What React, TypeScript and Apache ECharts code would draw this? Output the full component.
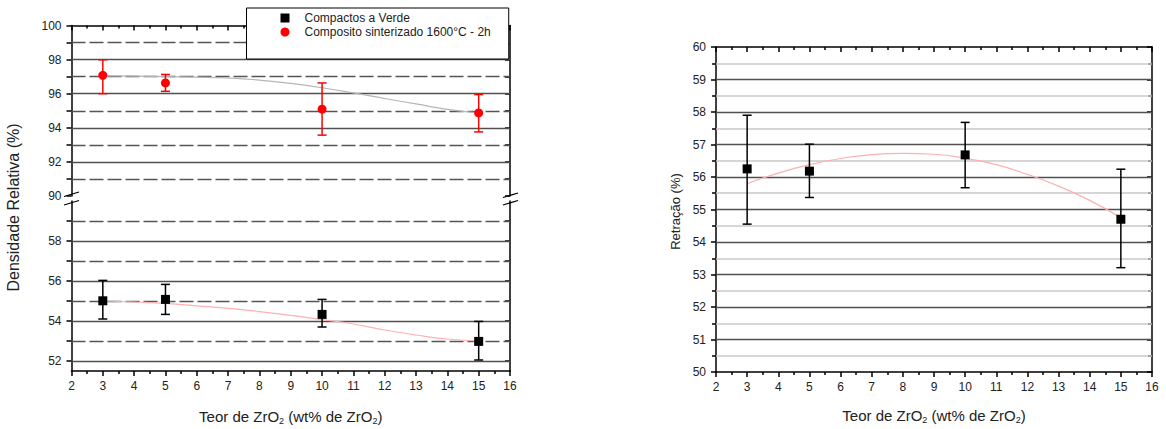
import React, { useEffect, useRef } from "react";
import * as echarts from "echarts";

// ---------- data ----------
const xPoints = [3, 5, 10, 15];

// Left panel, bottom section: green compacts (Compactos a Verde)
const greenDensity = [55.01, 55.08, 54.33, 52.98];
const greenLow = [54.1, 54.33, 53.7, 52.05];
const greenHigh = [56.03, 55.83, 55.08, 53.98];

// Left panel, top section: sintered composite
const sinterDensity = [97.08, 96.63, 95.09, 94.87];
const sinterLow = [96.0, 96.14, 93.57, 93.76];
const sinterHigh = [97.99, 97.13, 96.63, 95.95];

// Fit curves
const fitX = [3, 4, 5, 6, 7, 8, 9, 10, 11, 12, 13, 14, 15];
const greenFit = [55.0, 54.95, 54.88, 54.76, 54.63, 54.47, 54.28, 54.07, 53.85, 53.55, 53.3, 53.1, 53.0];
const sinterFit = [97.05, 97.03, 97.0, 96.97, 96.92, 96.8, 96.6, 96.35, 96.05, 95.72, 95.4, 95.08, 94.87];

// Right panel: shrinkage (Retração)
const retracao = [56.25, 56.18, 56.68, 54.7];
const retLow = [54.55, 55.37, 55.67, 53.21];
const retHigh = [57.9, 57.01, 57.68, 56.24];
const retFit = [55.8, 56.12, 56.38, 56.57, 56.69, 56.73, 56.7, 56.58, 56.38, 56.08, 55.72, 55.28, 54.75];

// Axis ticks / grid lines
const topMajor = [92, 94, 96, 98];
const topMinor = [91, 93, 95, 97, 99];
const bottomLabels = [52, 54, 56, 58];
const bottomTicks = [52, 53, 54, 55, 56, 57, 58, 59];
const bottomMajor = [52, 54, 56, 58];
const bottomMinor = [53, 55, 57, 59];
const rightMajor = [51, 52, 53, 54, 55, 56, 57, 58, 59];
const rightMinor = [50.5, 51.5, 52.5, 53.5, 54.5, 55.5, 56.5, 57.5, 58.5, 59.5];

const LEGEND_GREEN = "Compactos a Verde";
const LEGEND_SINTER = "Composito sinterizado 1600°C - 2h";

const FONT = "'Liberation Sans', Arial, sans-serif";
const TXT = "#222";

const axisLineStyle = { color: "#000", width: 1.5 };
const tickStyle = { color: "#000", width: 1.5 };

const xTitleRich = {
  a: { fontSize: 15, fontFamily: FONT, color: TXT, lineHeight: 18 },
  s: { fontSize: 9, fontFamily: FONT, color: TXT, lineHeight: 8, verticalAlign: "bottom" },
};
const xTitle = "{a|Teor de ZrO}{s|2}{a| (wt% de ZrO}{s|2}{a|)}";

function errorBar(color: string) {
  return (params: any, api: any) => {
    const x = api.value(0);
    const lo = api.coord([x, api.value(1)]);
    const hi = api.coord([x, api.value(2)]);
    const hw = 4.5;
    const style = { stroke: color, lineWidth: 1.5 };
    return {
      type: "group",
      children: [
        { type: "line", shape: { x1: lo[0], y1: lo[1], x2: hi[0], y2: hi[1] }, style },
        { type: "line", shape: { x1: lo[0] - hw, y1: lo[1], x2: lo[0] + hw, y2: lo[1] }, style },
        { type: "line", shape: { x1: hi[0] - hw, y1: hi[1], x2: hi[0] + hw, y2: hi[1] }, style },
      ],
    };
  };
}

function gridLines(major: number[], minor: number[], minorStyle: any) {
  return {
    silent: true,
    symbol: ["none", "none"],
    z: 1,
    label: { show: false },
    emphasis: { disabled: true },
    data: [
      ...major.map((v) => ({ yAxis: v, lineStyle: { color: "#505050", width: 1.3, type: "solid" } })),
      ...minor.map((v) => ({ yAxis: v, lineStyle: minorStyle })),
    ],
  };
}

export default function App() {
  const ref = useRef<HTMLDivElement>(null);

  useEffect(() => {
    if (!ref.current) return;
    const chart = echarts.init(ref.current, undefined, { renderer: "svg" });

    const dashedMinor = { color: "#555", width: 1.3, type: [14, 4] };
    const lightMinor = { color: "#c8c8c8", width: 1.5, type: "solid" };

    const xBase = {
      type: "value",
      min: 2,
      max: 16,
      interval: 1,
      axisLine: { show: true, onZero: false, lineStyle: axisLineStyle },
      splitLine: { show: false },
      minorTick: { show: true, splitNumber: 2, length: 3, lineStyle: tickStyle },
      axisTick: { show: true, length: 5, lineStyle: tickStyle },
    };
    const xLabel = { show: true, fontSize: 12, color: TXT, fontFamily: FONT, margin: 9 };

    const yBase = {
      type: "value",
      axisLine: { show: true, onZero: false, lineStyle: axisLineStyle },
      splitLine: { show: false },
      axisTick: { show: true, length: 5, lineStyle: tickStyle },
    };
    const yLabel = { show: true, fontSize: 12, color: TXT, fontFamily: FONT, margin: 10 };

    const option: any = {
      animation: false,
      backgroundColor: "#fff",
      textStyle: { fontFamily: FONT },
      grid: [
        { left: 71.5, top: 25.5, width: 438.5, height: 170.5 },
        { left: 71.5, top: 201, width: 438.5, height: 170 },
        { left: 716, top: 47, width: 436, height: 328 },
      ],
      legend: {
        left: 246.5,
        top: 8,
        orient: "vertical",
        itemWidth: 9,
        itemHeight: 9,
        itemGap: 2,
        padding: [4, 18, 21, 34],
        backgroundColor: "#fff",
        borderColor: "#000",
        borderWidth: 1,
        z: 10,
        textStyle: { fontSize: 12, color: TXT, fontFamily: FONT, padding: [0, 0, 0, 10] },
        data: [
          { name: LEGEND_GREEN, icon: "rect" },
          { name: LEGEND_SINTER, icon: "circle" },
        ],
      },
      xAxis: [
        { ...xBase, gridIndex: 0, position: "top", axisLabel: { show: false }, axisTick: { ...xBase.axisTick, inside: true } },
        {
          ...xBase,
          gridIndex: 1,
          position: "bottom",
          axisLabel: xLabel,
          name: xTitle,
          nameLocation: "middle",
          nameGap: 36,
          nameTextStyle: { rich: xTitleRich },
        },
        {
          ...xBase,
          gridIndex: 2,
          position: "bottom",
          axisLabel: xLabel,
          name: xTitle,
          nameLocation: "middle",
          nameGap: 34,
          nameTextStyle: { rich: xTitleRich },
        },
        { ...xBase, gridIndex: 2, position: "top", axisLabel: { show: false }, axisTick: { ...xBase.axisTick, inside: true } },
      ],
      yAxis: [
        {
          ...yBase,
          gridIndex: 0,
          position: "left",
          min: 90,
          max: 100,
          interval: 2,
          axisLabel: yLabel,
          minorTick: { show: true, splitNumber: 2, length: 5, lineStyle: tickStyle },
        },
        {
          ...yBase,
          gridIndex: 0,
          position: "right",
          min: 90,
          max: 100,
          interval: 1,
          axisLabel: { show: false },
          axisTick: { ...yBase.axisTick, inside: true },
        },
        {
          ...yBase,
          gridIndex: 1,
          position: "left",
          min: 51.5,
          max: 60,
          axisLabel: { ...yLabel, customValues: bottomLabels },
          axisTick: { ...yBase.axisTick, customValues: bottomTicks },
        },
        {
          ...yBase,
          gridIndex: 1,
          position: "right",
          min: 51.5,
          max: 60,
          axisLabel: { show: false, customValues: bottomLabels },
          axisTick: { ...yBase.axisTick, inside: true, customValues: bottomTicks },
        },
        {
          ...yBase,
          gridIndex: 2,
          position: "left",
          min: 50,
          max: 60,
          interval: 1,
          axisLabel: yLabel,
          minorTick: { show: true, splitNumber: 2, length: 4, lineStyle: tickStyle },
        },
        {
          ...yBase,
          gridIndex: 2,
          position: "right",
          min: 50,
          max: 60,
          interval: 1,
          axisLabel: { show: false },
          axisTick: { ...yBase.axisTick, inside: true },
          minorTick: { show: true, splitNumber: 2, length: 4, lineStyle: tickStyle },
        },
      ],
      series: [
        // ---- top-left: sintered composite ----
        {
          type: "line",
          name: "fitSinter",
          xAxisIndex: 0,
          yAxisIndex: 0,
          data: fitX.map((x, i) => [x, sinterFit[i]]),
          smooth: true,
          showSymbol: false,
          silent: true,
          z: 2,
          lineStyle: { color: "#b5b5b5", width: 1.2 },
          markLine: gridLines(topMajor, topMinor, dashedMinor),
        },
        {
          type: "custom",
          name: "errSinter",
          xAxisIndex: 0,
          yAxisIndex: 0,
          z: 3,
          renderItem: errorBar("#ff0000"),
          encode: { x: 0, y: [1, 2] },
          data: xPoints.map((x, i) => [x, sinterLow[i], sinterHigh[i]]),
        },
        {
          type: "scatter",
          name: LEGEND_SINTER,
          xAxisIndex: 0,
          yAxisIndex: 0,
          z: 4,
          symbol: "circle",
          symbolSize: 9,
          itemStyle: { color: "#ff0000", opacity: 1 },
          data: xPoints.map((x, i) => [x, sinterDensity[i]]),
        },
        // ---- bottom-left: green compacts ----
        {
          type: "line",
          name: "fitGreen",
          xAxisIndex: 1,
          yAxisIndex: 2,
          data: fitX.map((x, i) => [x, greenFit[i]]),
          smooth: true,
          showSymbol: false,
          silent: true,
          z: 2,
          lineStyle: { color: "#ffb0b0", width: 1.2 },
          markLine: gridLines(bottomMajor, bottomMinor, dashedMinor),
        },
        {
          type: "custom",
          name: "errGreen",
          xAxisIndex: 1,
          yAxisIndex: 2,
          z: 3,
          renderItem: errorBar("#000"),
          encode: { x: 0, y: [1, 2] },
          data: xPoints.map((x, i) => [x, greenLow[i], greenHigh[i]]),
        },
        {
          type: "scatter",
          name: LEGEND_GREEN,
          xAxisIndex: 1,
          yAxisIndex: 2,
          z: 4,
          symbol: "rect",
          symbolSize: 9,
          itemStyle: { color: "#000", opacity: 1 },
          data: xPoints.map((x, i) => [x, greenDensity[i]]),
        },
        // ---- right: retracao ----
        {
          type: "line",
          name: "fitRet",
          xAxisIndex: 2,
          yAxisIndex: 4,
          data: fitX.map((x, i) => [x, retFit[i]]),
          smooth: true,
          showSymbol: false,
          silent: true,
          z: 2,
          lineStyle: { color: "#ffb0b0", width: 1.2 },
          markLine: gridLines(rightMajor, rightMinor, lightMinor),
        },
        {
          type: "custom",
          name: "errRet",
          xAxisIndex: 2,
          yAxisIndex: 4,
          z: 3,
          renderItem: errorBar("#000"),
          encode: { x: 0, y: [1, 2] },
          data: xPoints.map((x, i) => [x, retLow[i], retHigh[i]]),
        },
        {
          type: "scatter",
          name: "Retração",
          xAxisIndex: 2,
          yAxisIndex: 4,
          z: 4,
          symbol: "rect",
          symbolSize: 9,
          itemStyle: { color: "#000", opacity: 1 },
          data: xPoints.map((x, i) => [x, retracao[i]]),
        },
      ],
      graphic: [
        // axis titles
        {
          type: "text",
          x: 13,
          y: 207.5,
          rotation: Math.PI / 2,
          style: { text: "Densidade Relativa (%)", font: `16px ${FONT}`, fill: TXT, align: "center", verticalAlign: "middle" },
        },
        {
          type: "text",
          x: 675,
          y: 211.5,
          rotation: Math.PI / 2,
          style: { text: "Retração (%)", font: `13px ${FONT}`, fill: TXT, align: "center", verticalAlign: "middle" },
        },
        // axis break marks
        { type: "line", shape: { x1: 64, y1: 196.5, x2: 79, y2: 192 }, style: { stroke: "#000", lineWidth: 1.3 } },
        { type: "line", shape: { x1: 64, y1: 205, x2: 79, y2: 200.5 }, style: { stroke: "#000", lineWidth: 1.3 } },
        { type: "line", shape: { x1: 503, y1: 197.5, x2: 518, y2: 193 }, style: { stroke: "#000", lineWidth: 1.3 } },
        { type: "line", shape: { x1: 503, y1: 205, x2: 518, y2: 200.5 }, style: { stroke: "#000", lineWidth: 1.3 } },
      ],
    };

    chart.setOption(option);
    return () => chart.dispose();
  }, []);

  return (
    <div
      ref={ref}
      style={{ position: "fixed", left: 0, top: 0, width: 1166, height: 429, background: "#fff" }}
    />
  );
}
